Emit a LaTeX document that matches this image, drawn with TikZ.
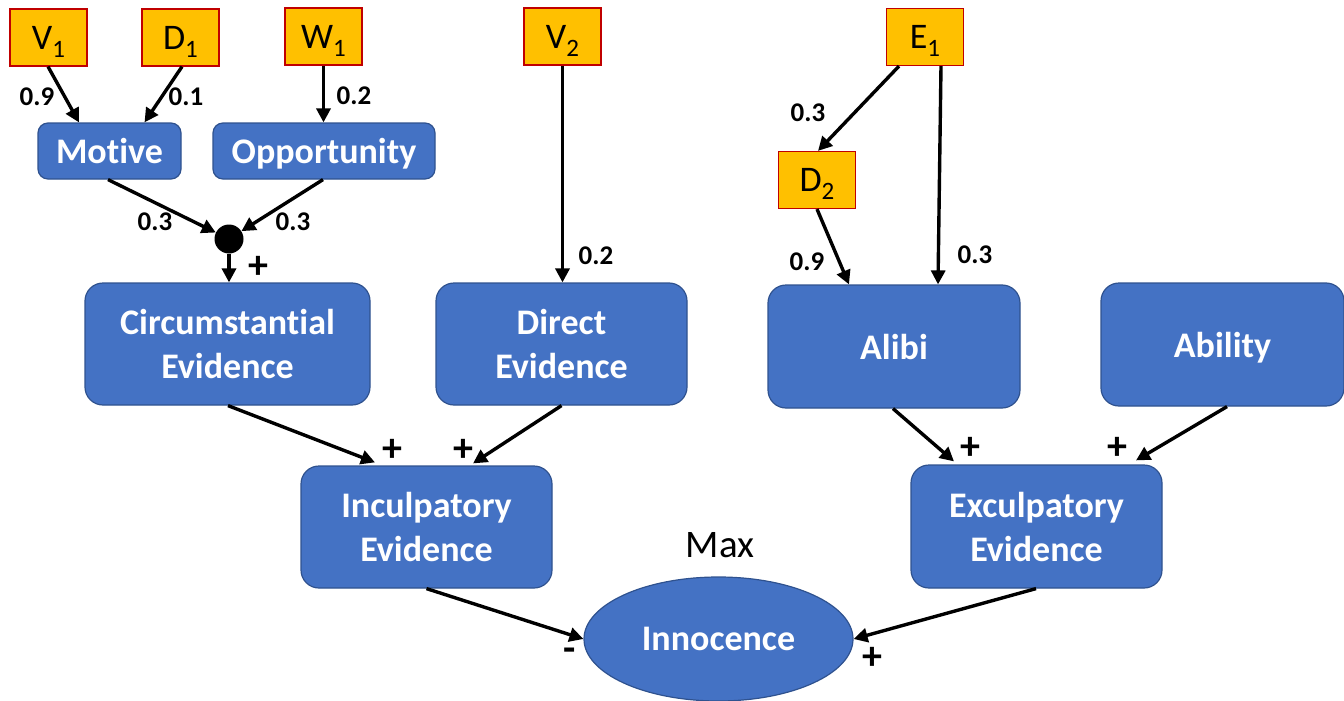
\documentclass[tikz,border=0pt]{standalone}
\usepackage{fontspec}
\setmainfont{Carlito}[Ligatures=NoCommon]
\usetikzlibrary{arrows.meta,shapes.geometric}
\definecolor{boxblue}{HTML}{4472C4}
\definecolor{boxedge}{HTML}{2F528F}
\definecolor{obsfill}{HTML}{FFC000}
\definecolor{obsedge}{HTML}{C00000}
% lowered index for evidence names (kept out of the line's height and depth)
\newcommand{\lowidx}[1]{\raisebox{-8pt}[0pt][0pt]{\fontsize{25}{25}\selectfont #1}}

\tikzset{
  factor/.style={draw=boxedge, line width=1.2pt, fill=boxblue, rounded corners=18pt,
    text=white, font=\fontsize{36}{44}\selectfont\bfseries, align=center, inner sep=0pt},
  oneline/.style={text depth=0pt},
  smallfactor/.style={factor, oneline, rounded corners=10pt},
  obs/.style={draw=obsedge, line width=1.2pt, fill=obsfill, minimum width=77pt,
    minimum height=57pt, inner sep=0pt, font=\fontsize{36}{36}\selectfont},
  link/.style={line width=3.4pt, -{Triangle[length=14pt,width=14pt]}},
  wt/.style={font=\fontsize{27}{27}\selectfont\bfseries, inner sep=0pt},
  sign/.style={font=\fontsize{40}{40}\selectfont\bfseries, inner sep=0pt},
}

\begin{document}
\begin{tikzpicture}[x=1pt,y=-1pt]
\useasboundingbox (0,0) rectangle (1344,701);

% observed evidence
\node[obs] (V1) at (48.5,37.5) {V\lowidx{1}};
\node[obs] (D1) at (180.5,37.5) {D\lowidx{1}};
\node[obs] (W1) at (323.5,36.5) {W\lowidx{1}};
\node[obs] (V2) at (562.5,36.5) {V\lowidx{2}};
\node[obs] (E1) at (925,37) {E\lowidx{1}};
\node[obs] (D2) at (817,180) {D\lowidx{2}};

% factors
\node[smallfactor, minimum width=143pt, minimum height=56pt] (Motive) at (109.5,151) {Motive};
\node[smallfactor, minimum width=222pt, minimum height=56pt] (Opp) at (324,151) {Opportunity};
\node[circle, fill=black, minimum size=29pt, inner sep=0pt] (dot) at (229,239) {};
\node[factor, minimum width=285pt, minimum height=122pt] (Circ) at (227.5,344) {Circumstantial\\Evidence};
\node[factor, minimum width=251pt, minimum height=122pt] (Direct) at (561.5,344) {Direct\\Evidence};
\node[factor, oneline, minimum width=252pt, minimum height=123pt] (Alibi) at (894,346.5) {Alibi};
\node[factor, oneline, minimum width=243pt, minimum height=123pt] (Ability) at (1222.5,344.5) {Ability};
\node[factor, minimum width=251pt, minimum height=122pt] (Incul) at (426.5,527) {Inculpatory\\Evidence};
\node[factor, minimum width=251pt, minimum height=123pt] (Excul) at (1036.5,526.5) {Exculpatory\\Evidence};
\node[ellipse, draw=boxedge, line width=1.2pt, fill=boxblue, minimum width=269pt, minimum height=124pt,
  inner sep=0pt, text=white, font=\fontsize{36}{44}\selectfont\bfseries] (Innocence) at (718.5,639) {Innocence};
\node[font=\fontsize{39}{39}\selectfont, inner sep=0pt] (max) at (720,545) {Max};

% links
\draw[link] ([xshift=-0.5pt]V1.south) -- ([xshift=-30.5pt]Motive.north);
\draw[link] ([xshift=1.5pt]D1.south) -- ([xshift=35pt]Motive.north);
\draw[link] (W1.south) -- (W1.south |- Opp.north);
\draw[link] ([xshift=-1.5pt]Motive.south) -- (dot);
\draw[link] ([xshift=-1pt]Opp.south) -- (dot);
\draw[link] (dot) -- (dot |- Circ.north);
\draw[link] (V2.south) -- (V2.south |- Direct.north);
\draw[link] ([xshift=-26pt]E1.south) -- ([xshift=1pt]D2.north);
\draw[link] ([xshift=16pt]E1.south) -- ([xshift=44pt]Alibi.north);
\draw[link] (D2.south) -- ([xshift=-45pt]Alibi.north);
\draw[link] ([xshift=0.5pt]Circ.south) -- ([xshift=-51.5pt,yshift=3pt]Incul.north);
\draw[link] (Direct.south) -- ([xshift=46.5pt,yshift=2pt]Incul.north);
\draw[link] ([xshift=-1pt]Alibi.south) -- ([xshift=-82.5pt,yshift=3pt]Excul.north);
\draw[link] ([xshift=4.5pt]Ability.south) -- ([xshift=99.5pt,yshift=4pt]Excul.north);
\draw[link] (Incul.south) -- (Innocence.west);
\draw[link] ([xshift=-0.5pt]Excul.south) -- (Innocence.east);

% link weights
\node[wt] (w1) at (37,97) {0.9};
\node[wt] (w2) at (186,97) {0.1};
\node[wt] (w3) at (354,96) {0.2};
\node[wt] (w4) at (155,222) {0.3};
\node[wt] (w5) at (293,222) {0.3};
\node[wt] (w6) at (596,256) {0.2};
\node[wt] (w7) at (808,113) {0.3};
\node[wt] (w8) at (807,262) {0.9};
\node[wt] (w9) at (975,255) {0.3};

% signs
\node[sign] (s1) at (258,267) {+};
\node[sign] (s2) at (392,450) {+};
\node[sign] (s3) at (463,450) {+};
\node[sign] (s4) at (970,448) {+};
\node[sign] (s5) at (1117,448) {+};
\node[sign] (s6) at (872,658) {+};
\node[sign] (s7) at (570,655) {-};
\end{tikzpicture}
\end{document}
